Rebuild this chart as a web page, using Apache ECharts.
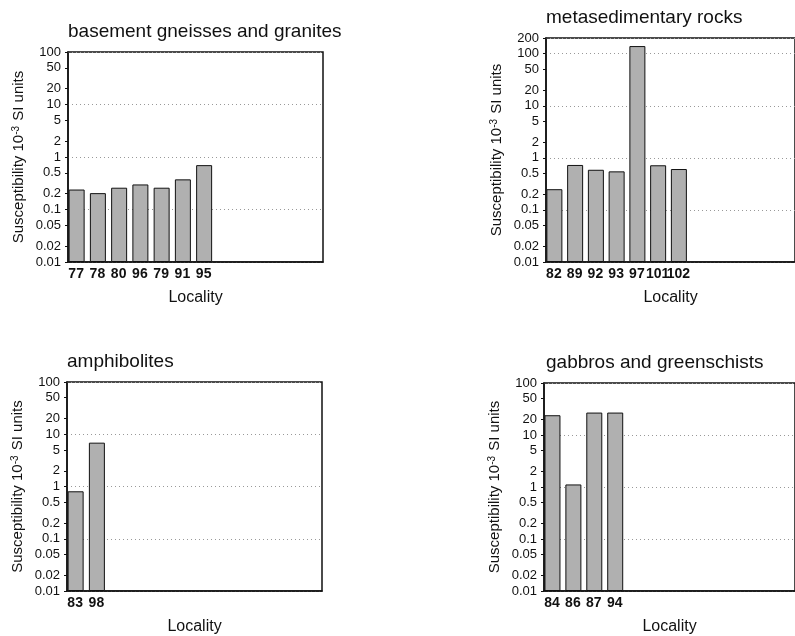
<!DOCTYPE html>
<html>
<head>
<meta charset="utf-8">
<script src="https://cdn.jsdelivr.net/npm/echarts@6/dist/echarts.min.js"></script>
<style>
html,body{margin:0;padding:0;background:#fff;}
#chart{width:795px;height:636px;}
</style>
</head>
<body>
<div id="chart"></div>
<script>
// ---- data ----
const titles = ['basement gneisses and granites', 'metasedimentary rocks', 'amphibolites', 'gabbros and greenschists'];
const cats1 = ['77', '78', '80', '96', '79', '91', '95'];
const vals1 = [0.24, 0.205, 0.26, 0.30, 0.26, 0.375, 0.70];
const cats2 = ['82', '89', '92', '93', '97', '101', '102'];
const vals2 = [0.25, 0.73, 0.59, 0.55, 140, 0.72, 0.61];
const cats3 = ['83', '98'];
const vals3 = [0.81, 6.9];
const cats4 = ['84', '86', '87', '94'];
const vals4 = [24, 1.12, 27, 27];
const ticks100 = [0.01, 0.02, 0.05, 0.1, 0.2, 0.5, 1, 2, 5, 10, 20, 50, 100];
const ticks200 = [0.01, 0.02, 0.05, 0.1, 0.2, 0.5, 1, 2, 5, 10, 20, 50, 100, 200];
const yMin = 0.01;
const yMaxes = [100, 200, 100, 100];
const xLabel = 'Locality';
const yLabel = 'Susceptibility 10{sup|-3} SI units';
const slots = 12;

const FONT = '"Liberation Sans", Arial, Helvetica, sans-serif';
const panels = [
  {cats: cats1, vals: vals1, ticks: ticks100, grid: {left: 68, top: 52, width: 255, height: 210}, title: {left: 68, top: 22}},
  {cats: cats2, vals: vals2, ticks: ticks200, grid: {left: 546, top: 38, width: 255, height: 224}, title: {left: 546, top: 8}},
  {cats: cats3, vals: vals3, ticks: ticks100, grid: {left: 67, top: 382, width: 255, height: 209}, title: {left: 67, top: 352}},
  {cats: cats4, vals: vals4, ticks: ticks100, grid: {left: 544, top: 383, width: 255, height: 209}, title: {left: 546, top: 353}}
];

function pad(arr) {
  const out = arr.slice();
  while (out.length < slots) out.push('');
  return out;
}
function fmt(v) {
  return String(Number(Math.pow(10, v).toPrecision(2)));
}

const option = {
  backgroundColor: '#fff',
  animation: false,
  title: [], grid: [], xAxis: [], yAxis: [], series: []
};

panels.forEach((p, i) => {
  option.title.push({
    text: titles[i], left: p.title.left, top: p.title.top, padding: 0,
    textStyle: {fontFamily: FONT, fontSize: 19, fontWeight: 'normal', color: '#111'}
  });
  option.grid.push(Object.assign({show: true, borderColor: '#111', borderWidth: 1.5, backgroundColor: 'transparent'}, p.grid));
  option.xAxis.push({
    type: 'category', gridIndex: i, data: pad(p.cats), boundaryGap: true,
    axisLine: {show: true, onZero: false, lineStyle: {color: '#111', width: 1.5}},
    axisTick: {show: false},
    axisLabel: {interval: 0, margin: 5, padding: [0, 5, 0, 0], fontFamily: FONT, fontSize: 14, fontWeight: 'bold', color: '#111'},
    name: xLabel, nameLocation: 'middle', nameGap: 28,
    nameTextStyle: {fontFamily: FONT, fontSize: 16, color: '#111'}
  });
  // log axis that scales the bars and draws the decade grid lines
  option.yAxis.push({
    type: 'log', gridIndex: i, position: 'left', offset: 0, logBase: 10, min: yMin, max: yMaxes[i],
    startValue: yMin,
    axisLine: {show: true, onZero: false, lineStyle: {color: '#111', width: 1.5}},
    axisTick: {show: false}, axisLabel: {show: false},
    splitLine: {show: true, lineStyle: {color: '#999', width: 1, type: [1, 3]}}
  });
  // companion axis (same log mapping, in exponents) carrying the 1-2-5 labels
  option.yAxis.push({
    type: 'value', gridIndex: i, position: 'left', offset: 0,
    min: Math.log10(yMin), max: Math.log10(yMaxes[i]),
    axisLine: {show: false, onZero: false},
    splitLine: {show: false},
    axisTick: {show: true, length: 3, lineStyle: {color: '#111'}, customValues: p.ticks.map(Math.log10)},
    axisLabel: {show: true, margin: 7, fontFamily: FONT, fontSize: 13, color: '#111',
      customValues: p.ticks.map(Math.log10), formatter: fmt},
    name: yLabel, nameLocation: 'middle', nameGap: 41,
    nameTextStyle: {fontFamily: FONT, fontSize: 15, color: '#111',
      rich: {sup: {fontFamily: FONT, fontSize: 10, color: '#111', verticalAlign: 'top', padding: [0, 1, 6, 0]}}}
  });
  option.series.push({
    type: 'bar', xAxisIndex: i, yAxisIndex: 2 * i, data: p.vals,
    barWidth: 16, barGap: '0%',
    itemStyle: {color: '#b0b0b0', borderColor: '#111', borderWidth: 1}
  });
  // empty companion series: keeps the bars on the left of each locality slot
  option.series.push({
    type: 'bar', xAxisIndex: i, yAxisIndex: 2 * i, data: p.vals.map(() => null),
    barWidth: 4, barGap: '0%', silent: true
  });
});

const chart = echarts.init(document.getElementById('chart'), null, {renderer: 'canvas'});
chart.setOption(option);
</script>
</body>
</html>
